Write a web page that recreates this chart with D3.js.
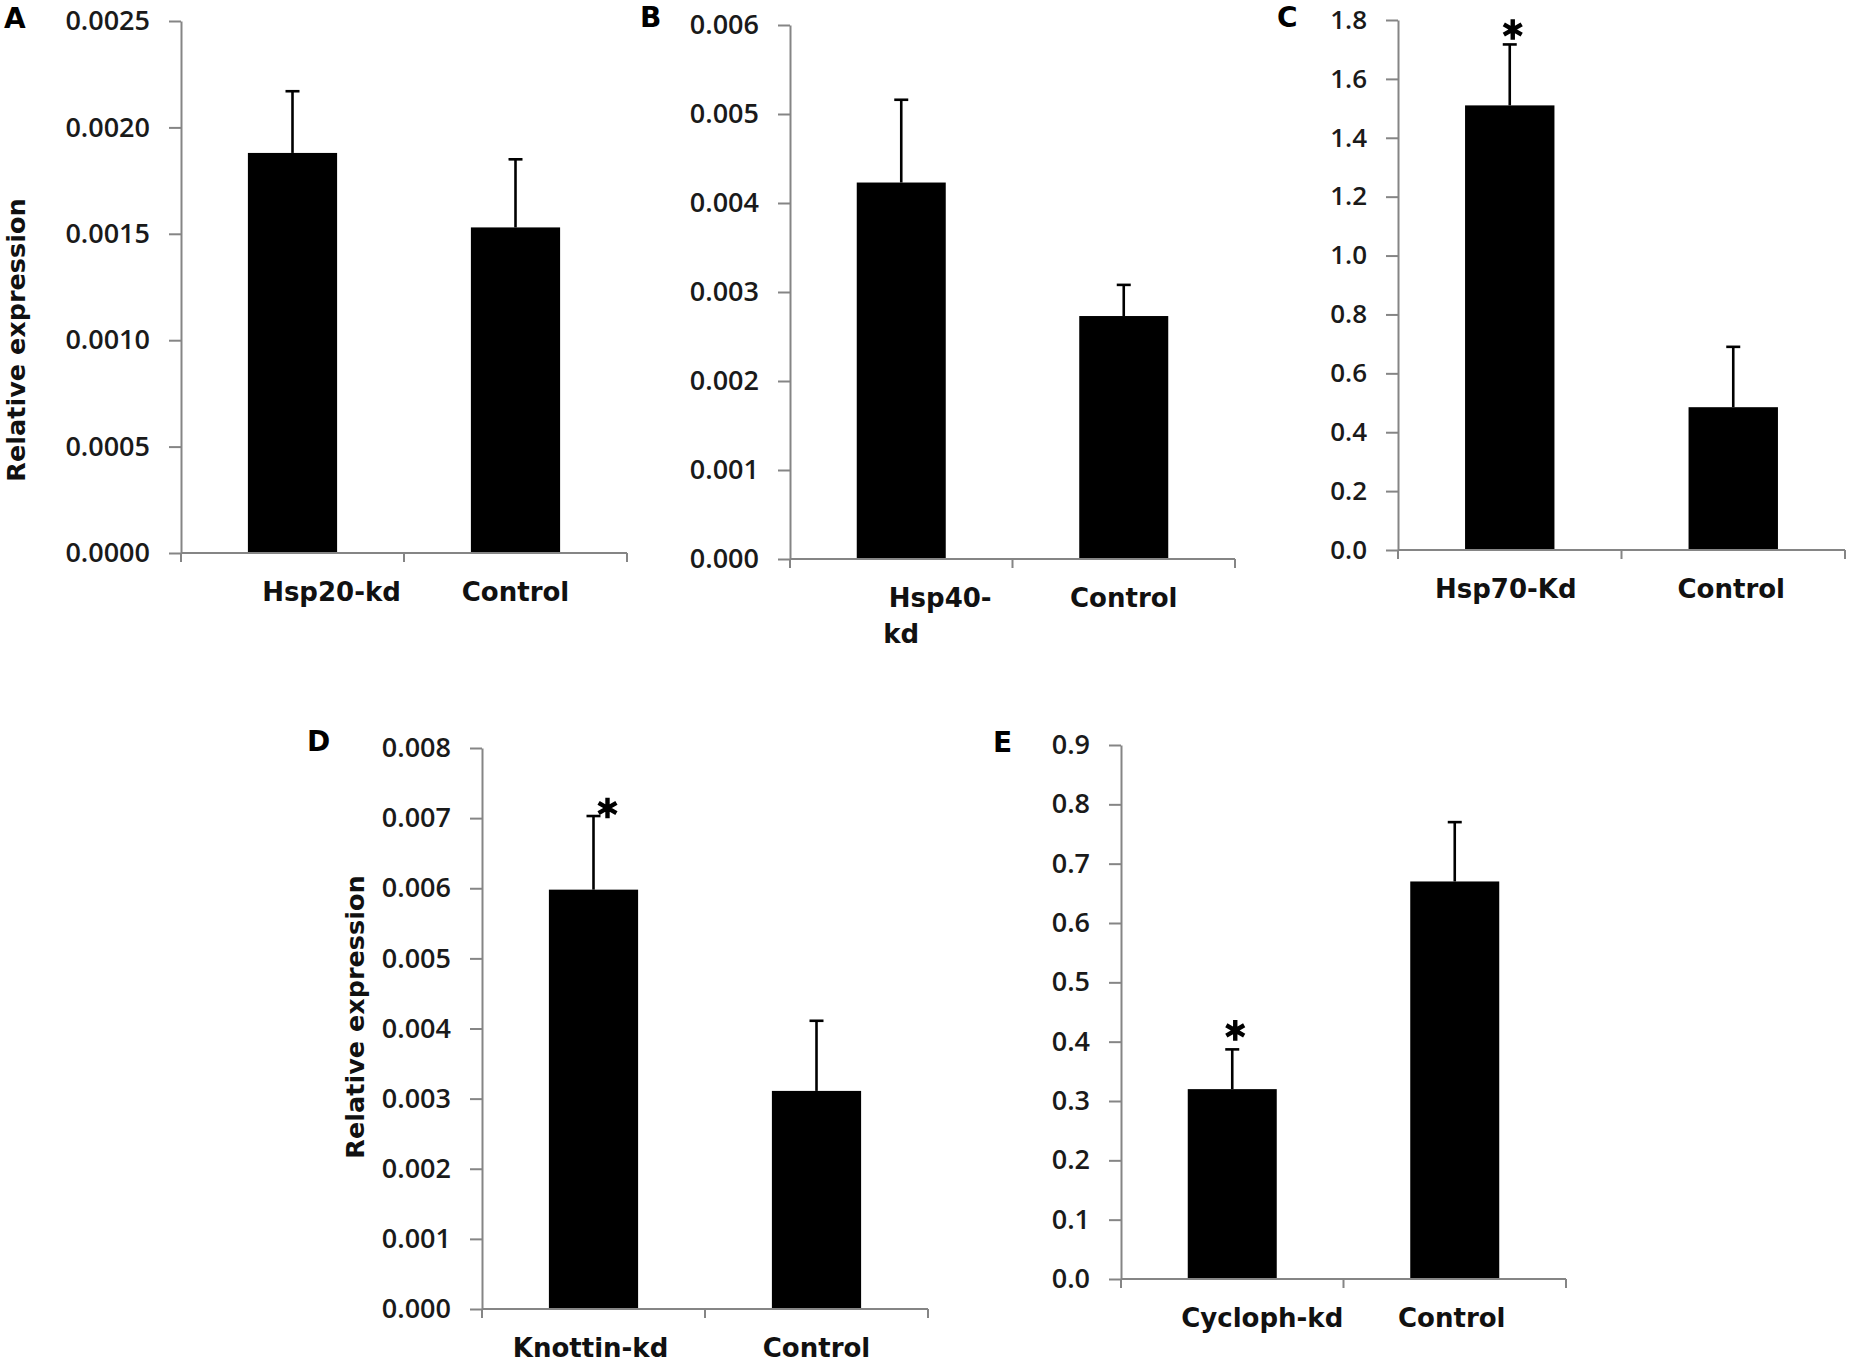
<!DOCTYPE html>
<html>
<head>
<meta charset="utf-8">
<script src="https://cdn.jsdelivr.net/npm/d3@7"></script>
<style>
  body { margin: 0; background: #fff; }
  svg { display: block; }
</style>
</head>
<body>
<svg id="chart" width="1850" height="1365"></svg>
<script>
// ---------- DATA ----------
const panelLetters = ["A", "B", "C", "D", "E"];
const yTitle = "Relative expression";

const catsA = ["Hsp20-kd", "Control"];
const meansA = [0.00188, 0.00153];
const errsA = [0.00029, 0.00032];
const sigA = [false, false];
const ticksA = [0, 0.0005, 0.0010, 0.0015, 0.0020, 0.0025];

const catsB = ["Hsp40-kd", "Control"];
const meansB = [0.00423, 0.00273];
const errsB = [0.00093, 0.00035];
const sigB = [false, false];
const ticksB = [0, 0.001, 0.002, 0.003, 0.004, 0.005, 0.006];

const catsC = ["Hsp70-Kd", "Control"];
const meansC = [1.51, 0.485];
const errsC = [0.207, 0.205];
const sigC = [true, false];
const ticksC = [0, 0.2, 0.4, 0.6, 0.8, 1.0, 1.2, 1.4, 1.6, 1.8];

const catsD = ["Knottin-kd", "Control"];
const meansD = [0.00598, 0.00311];
const errsD = [0.00105, 0.00100];
const sigD = [true, false];
const ticksD = [0, 0.001, 0.002, 0.003, 0.004, 0.005, 0.006, 0.007, 0.008];

const catsE = ["Cycloph-kd", "Control"];
const meansE = [0.32, 0.67];
const errsE = [0.067, 0.10];
const sigE = [true, false];
const ticksE = [0, 0.1, 0.2, 0.3, 0.4, 0.5, 0.6, 0.7, 0.8, 0.9];

// ---------- LAYOUT ----------
const layout = [
  { cats: catsA, means: meansA, errs: errsA, sig: sigA, ticks: ticksA, fmt: ".4f", tickFont: 27,
    x0: 181, x1: 627, y0: 553, yTop: 21, letter: [4, 28], title: [25, 340], titleSize: 25.5,
    labelDx: [[39], [0]], wrap: false, star: [0, 0] },
  { cats: catsB, means: meansB, errs: errsB, sig: sigB, ticks: ticksB, fmt: ".3f", tickFont: 27,
    x0: 790, x1: 1235, y0: 559, yTop: 25, letter: [640, 27], title: null,
    labelDx: [[39, 0], [0]], wrap: true, star: [0, 0] },
  { cats: catsC, means: meansC, errs: errsC, sig: sigC, ticks: ticksC, fmt: ".1f", tickFont: 26,
    x0: 1398, x1: 1845, y0: 550, yTop: 20, letter: [1277, 27], title: null,
    labelDx: [[-4], [-2]], wrap: false, star: [3, -15] },
  { cats: catsD, means: meansD, errs: errsD, sig: sigD, ticks: ticksD, fmt: ".3f", tickFont: 27,
    x0: 482, x1: 928, y0: 1309, yTop: 748, letter: [307, 751], title: [364, 1017], titleSize: 25.5,
    labelDx: [[-3], [0]], wrap: false, star: [14, -8] },
  { cats: catsE, means: meansE, errs: errsE, sig: sigE, ticks: ticksE, fmt: ".1f", tickFont: 27,
    x0: 1121, x1: 1566, y0: 1279, yTop: 745, letter: [993, 752], title: null,
    labelDx: [[30], [-3]], wrap: false, star: [3, -19] }
];

const AXIS_COLOR = "#858585";
const svg = d3.select("#chart");
svg.append("rect").attr("width", 1850).attr("height", 1365).attr("fill", "#fff");

layout.forEach((p, pi) => {
  const g = svg.append("g");
  const x = d3.scaleBand().domain(p.cats).range([p.x0, p.x1])
    .paddingInner(0.6).paddingOuter(0.3);
  const y = d3.scaleLinear().domain([0, d3.max(p.ticks)]).range([p.y0, p.yTop]);
  const step = x.step();
  const bounds = d3.range(p.cats.length + 1).map(i => p.x0 + i * step);

  // bars
  g.selectAll("rect.bar").data(p.cats).join("rect")
    .attr("class", "bar")
    .attr("x", d => x(d))
    .attr("y", (d, i) => y(p.means[i]))
    .attr("width", x.bandwidth())
    .attr("height", (d, i) => y(0) - y(p.means[i]))
    .attr("fill", "#000");

  // error bars (upper only)
  p.cats.forEach((c, i) => {
    const cx = x(c) + x.bandwidth() / 2;
    const top = y(p.means[i] + p.errs[i]);
    g.append("line").attr("x1", cx).attr("x2", cx)
      .attr("y1", y(p.means[i])).attr("y2", top)
      .attr("stroke", "#000").attr("stroke-width", 2.6);
    g.append("line").attr("x1", cx - 7).attr("x2", cx + 7)
      .attr("y1", top).attr("y2", top)
      .attr("stroke", "#000").attr("stroke-width", 2.6);
    if (p.sig[i]) {
      g.append("path")
        .attr("d", d3.symbol(d3.symbolAsterisk, 300)())
        .attr("transform", `translate(${cx + p.star[0]},${top + p.star[1]})`)
        .attr("fill", "none").attr("stroke", "#000").attr("stroke-width", 4.4);
    }
  });

  // y axis
  const yAxis = d3.axisLeft(y).tickValues(p.ticks).tickFormat(d3.format(p.fmt))
    .tickSize(12).tickSizeOuter(0).tickPadding(19);
  const ya = g.append("g").attr("transform", `translate(${p.x0},0)`).call(yAxis);
  ya.select(".domain").attr("stroke", AXIS_COLOR).attr("stroke-width", 2);
  ya.selectAll(".tick line").attr("stroke", AXIS_COLOR).attr("stroke-width", 2);
  ya.selectAll(".tick text")
    .attr("font-family", "'Open Sans', sans-serif")
    .attr("font-weight", 600)
    .attr("font-size", p.tickFont).attr("fill", "#1a1a1a");

  // x axis line with boundary ticks
  g.append("line").attr("x1", p.x0).attr("x2", p.x1)
    .attr("y1", p.y0).attr("y2", p.y0)
    .attr("stroke", AXIS_COLOR).attr("stroke-width", 2);
  g.selectAll("line.xt").data(bounds).join("line")
    .attr("class", "xt")
    .attr("x1", d => d).attr("x2", d => d)
    .attr("y1", p.y0).attr("y2", p.y0 + 9)
    .attr("stroke", AXIS_COLOR).attr("stroke-width", 2);

  // category labels
  p.cats.forEach((c, i) => {
    const cx = x(c) + x.bandwidth() / 2;
    const lines = (p.wrap && c.includes("-") && i === 0)
      ? [c.slice(0, c.indexOf("-") + 1), c.slice(c.indexOf("-") + 1)]
      : [c];
    lines.forEach((ln, li) => {
      g.append("text")
        .attr("x", cx + (p.labelDx[i][li] || 0))
        .attr("y", p.y0 + 48 + li * 36)
        .attr("text-anchor", "middle")
        .attr("font-family", "'DejaVu Sans', sans-serif")
        .attr("font-weight", "bold")
        .attr("font-size", 26)
        .attr("fill", "#111")
        .text(ln);
    });
  });

  // panel letter
  g.append("text")
    .attr("x", p.letter[0]).attr("y", p.letter[1])
    .attr("font-family", "'DejaVu Sans', sans-serif")
    .attr("font-weight", "bold").attr("font-size", 28)
    .attr("fill", "#000")
    .text(panelLetters[pi]);

  // y title
  if (p.title) {
    g.append("text")
      .attr("transform", `translate(${p.title[0]},${p.title[1]}) rotate(-90)`)
      .attr("text-anchor", "middle")
      .attr("font-family", "'DejaVu Sans', sans-serif")
      .attr("font-weight", "bold").attr("font-size", p.titleSize)
      .attr("fill", "#111")
      .text(yTitle);
  }
});
</script>
</body>
</html>
